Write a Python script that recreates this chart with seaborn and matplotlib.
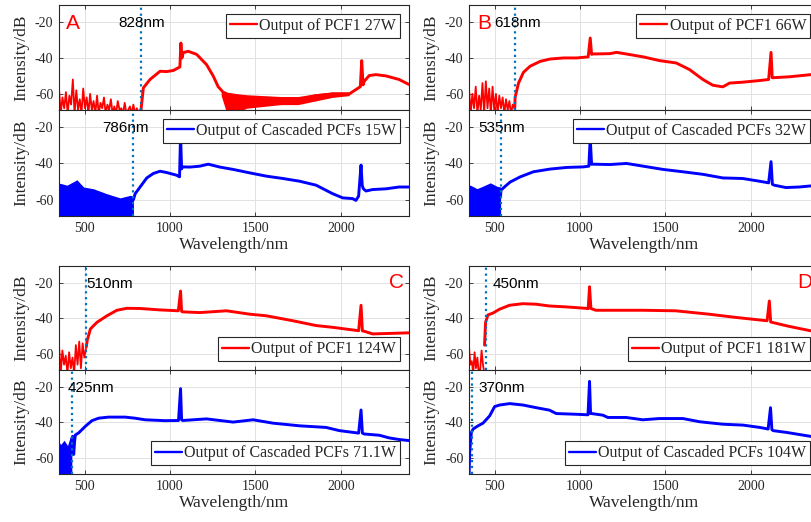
import numpy as np
import matplotlib
matplotlib.use("Agg")
import matplotlib.pyplot as plt
import seaborn as sns

# ---------- panel A ----------
a1_noise = [-57, -71, -62, -68, -59, -71, -61, -66, -52, -71, -58, -69, -63, -71, -57, -68,
            -62, -71, -60, -69, -64, -71, -61, -71, -65, -68, -62, -71, -66, -69, -63, -71,
            -67, -71, -64, -69, -68, -71, -65, -71, -69, -67, -71, -66, -71, -68, -71, -69]
a1_wl = [828, 844, 883, 942, 980, 1019, 1049, 1058, 1064, 1070, 1078, 1107, 1156, 1214, 1253,
         1282, 1311, 1370, 1470, 1564, 1660, 1759, 1856, 1953, 2051, 2099, 2115, 2123, 2131,
         2138, 2167, 2206, 2265, 2342, 2400]
a1_db = [-71, -56.7, -52, -47.4, -47.6, -47, -45.5, -45, -31.7, -40, -37, -36.3, -38, -43.7, -50,
         -56, -59, -62, -63, -63, -63, -63, -61, -60, -60, -57, -56, -41.5, -55,
         -53, -49.8, -49.3, -50, -52, -54.8]
a1_band_wl = [1300, 1330, 1400, 1450, 1550, 1650, 1750, 1850, 1950, 2050]
a1_band_hi = [-58, -59, -60, -60.5, -61, -61.5, -61.5, -60, -59, -59]
a1_band_lo = [-61, -70, -70, -68, -67, -66, -66, -64, -62, -61]

a2_noise_wl = [350, 358, 397, 455, 494, 553, 630, 708, 767, 786]
a2_noise_hi = [-51, -51, -52, -49, -53, -54, -56.7, -59, -57.6, -58]
a2_wl = [786, 796, 825, 864, 903, 942, 980, 1039, 1056, 1062, 1068, 1074, 1117, 1175, 1224,
         1292, 1370, 1467, 1564, 1661, 1759, 1856, 1953, 2012, 2070, 2089, 2105, 2119, 2126,
         2132, 2148, 2187, 2265, 2342, 2400]
a2_db = [-60, -56.7, -53, -48, -45.5, -44.3, -45, -46.5, -47.4, -24, -43, -41.9, -42, -41.5, -40.4,
         -42, -43.3, -45.2, -47, -48.3, -49.8, -52, -56.7, -59, -59.4, -60.4, -58, -40.9, -52,
         -53.9, -55.2, -54.4, -54, -53, -53]

# ---------- panel B ----------
b1_noise = [-57, -71, -60, -68, -56, -71, -61, -69, -54, -71, -53, -68, -57, -71,
            -56, -69, -60, -71, -61, -68, -62, -71, -63, -69, -64, -71, -66, -68]
b1_wl = [618, 620, 640, 669, 708, 767, 825, 903, 980, 1048, 1060, 1068, 1074, 1175, 1214, 1272,
         1370, 1467, 1564, 1642, 1720, 1778, 1837, 1876, 1953, 2051, 2105, 2119, 2126, 2132,
         2226, 2352, 2400]
b1_db = [-68, -62, -54, -48, -44.6, -41.9, -40.6, -40, -40, -39.4, -28.9, -38, -37.8, -37.6, -36.9,
         -37.8, -39.4, -41.5, -42.8, -46.5, -52, -55.2, -56.1, -54, -53.5, -52.6, -52, -36.9, -51,
         -51, -50.5, -49.3, -49]

b2_noise_wl = [350, 358, 397, 420, 475, 514, 535]
b2_noise_hi = [-52, -52, -53.9, -53, -50.7, -52.6, -53]
b2_wl = [535, 537, 562, 592, 650, 727, 825, 922, 1019, 1052, 1060, 1068, 1074, 1175, 1272, 1370,
         1487, 1603, 1720, 1837, 1953, 2051, 2105, 2119, 2127, 2138, 2206, 2284, 2352, 2400]
b2_db = [-58, -54.8, -52.6, -50.2, -47.4, -44.6, -43.1, -42.2, -41.9, -41.5, -26, -40.5, -40.4,
         -40.6, -40, -41.5, -43.3, -44.6, -46, -48, -48.3, -49.8, -50.7, -39, -51.5, -52, -53.3,
         -53, -52.4, -52.5]

# ---------- panel C ----------
c1_noise = [-55, -71, -58, -66, -61, -71, -59, -68, -62, -71, -55, -66, -53, -68, -54, -62, -57]
c1_wl = [510, 515, 534, 572, 631, 689, 747, 825, 942, 1049, 1062, 1068, 1074, 1175, 1331, 1467,
         1564, 1720, 1856, 1953, 2105, 2119, 2127, 2138, 2187, 2400]
c1_db = [-56, -52.4, -45.9, -42.2, -38.5, -35.4, -34.3, -34.4, -35.2, -35.7, -24.6, -36, -36.3,
         -36.7, -35.7, -37.6, -38.5, -41.3, -44, -45, -46.9, -32.6, -47, -47.2, -48.7, -48.1]

c2_noise_wl = [350, 360, 380, 400, 416, 425]
c2_noise_hi = [-51, -52.4, -50, -53, -48, -47]
c2_wl = [425, 430, 436, 442, 446, 465, 504, 543, 582, 640, 737, 795, 854, 970, 1050, 1062, 1068,
         1074, 1214, 1370, 1487, 1603, 1759, 1914, 1992, 2105, 2119, 2127, 2138, 2226, 2284,
         2342, 2400]
c2_db = [-50, -47.8, -58, -50, -47, -45.9, -42.2, -39, -37.6, -37, -37, -37.6, -38.5, -39, -38.9,
         -21, -38.5, -38.9, -38, -39.8, -38.5, -40.4, -41.9, -42.8, -44.6, -46, -33, -46, -46.5,
         -47.2, -48.7, -49.6, -50.2]

# ---------- panel D ----------
d1_noise = [-56, -66, -64, -71, -59, -68, -62, -71, -69, -58, -66, -71]
d1_wl = [441, 447, 461, 490, 529, 587, 665, 743, 821, 918, 1034, 1048, 1056, 1064, 1093, 1210,
         1366, 1560, 1755, 1911, 2008, 2096, 2109, 2117, 2125, 2222, 2349, 2400]
d1_db = [-55, -42.2, -38, -37, -34.8, -32.6, -31.7, -32, -33, -33.5, -34.3, -34.5, -22.2, -34.4,
         -35.4, -35.4, -35.4, -35.7, -37.6, -39.4, -40.4, -41.3, -30.2, -42, -42.2, -44.4,
         -46.9, -48]

d2_wl = [350, 354, 364, 374, 403, 432, 471, 500, 529, 588, 666, 744, 822, 861, 978, 1047, 1056,
         1062, 1068, 1134, 1163, 1270, 1368, 1466, 1603, 1700, 1837, 1955, 2053, 2102, 2116,
         2124, 2131, 2209, 2356, 2400]
d2_db = [-72, -56.7, -45.6, -43.7, -41.9, -40.4, -36.3, -31.1, -30.2, -29.4, -30.2, -31.7, -33.1,
         -35, -35.4, -35.7, -16.9, -35, -35, -35.9, -37.2, -37.2, -38.5, -37.8, -37.8, -39.6, -41,
         -41.5, -42.8, -43.7, -31.7, -44, -44.6, -45.6, -47.9, -48.5]

panels = ["A", "B", "C", "D"]
cut_pcf1 = [828, 618, 510, 450]
cut_casc = [786, 535, 425, 370]
labels_pcf1 = ["Output of PCF1 27W", "Output of PCF1 66W", "Output of PCF1 124W", "Output of PCF1 181W"]
labels_casc = ["Output of Cascaded PCFs 15W", "Output of Cascaded PCFs 32W",
               "Output of Cascaded PCFs 71.1W", "Output of Cascaded PCFs 104W"]

RED = (1, 0, 0)
BLUE = (0, 0, 1)
DOT = (0, 0.447, 0.741)

sns.set_theme(style="white")
plt.rcParams["font.family"] = ["Liberation Serif", "DejaVu Serif"]
plt.rcParams["axes.unicode_minus"] = False

W, H = 812, 522
fig = plt.figure(figsize=(W / 100, H / 100), dpi=100)


def rect(x0, y0, x1, y1):
    return [x0 / W, 1 - y1 / H, (x1 - x0) / W, (y1 - y0) / H]


def style(ax, bottom_labels):
    ax.set_xlim(350, 2400)
    ax.set_ylim(-69, -10.5)
    ax.set_xticks([500, 1000, 1500, 2000])
    ax.set_yticks([-60, -40, -20])
    ax.grid(True, color="#e2e2e2", lw=0.7)
    ax.set_axisbelow(True)
    ax.tick_params(direction="in", length=3, width=0.6, top=True, right=True, bottom=True, left=True,
                   labelsize=10, labelbottom=bottom_labels, colors="#262626", pad=4)
    for s in ax.spines.values():
        s.set_color("#262626")
        s.set_linewidth(0.8)
    ax.set_ylabel("Intensity/dB", fontsize=12.5, color="#262626")
    if bottom_labels:
        ax.set_xlabel("Wavelength/nm", fontsize=12.5, color="#262626", labelpad=2)
    else:
        ax.set_xlabel("")


def legend(ax, loc):
    leg = ax.legend(loc=loc, fontsize=11.5, frameon=True, fancybox=False, framealpha=1,
                    edgecolor="#262626", borderpad=0.25, handlelength=1.7, handletextpad=0.15,
                    borderaxespad=0.55)
    leg.get_frame().set_linewidth(0.8)
    for h in leg.get_lines():
        h.set_linewidth(1.7)


def noise_line(ax, lo, hi, vals, color):
    ax.plot(np.linspace(lo, hi, len(vals)), vals, color=color, lw=1.3)


cols = [(59, 409), (469, 819)]
rows = [((5, 110), (110, 216)), ((266, 370), (370, 474))]

data = {
    "A": dict(top=(a1_wl, a1_db), bot=(a2_wl, a2_db)),
    "B": dict(top=(b1_wl, b1_db), bot=(b2_wl, b2_db)),
    "C": dict(top=(c1_wl, c1_db), bot=(c2_wl, c2_db)),
    "D": dict(top=(d1_wl, d1_db), bot=(d2_wl, d2_db)),
}
text_x_top = [700, 496, 508, 490]
text_x_bot = [602, 403, 403, 403]

for i, p in enumerate(panels):
    c = cols[i % 2]
    r = rows[i // 2]
    ax_t = fig.add_axes(rect(c[0], r[0][0], c[1], r[0][1]))
    ax_b = fig.add_axes(rect(c[0], r[1][0], c[1], r[1][1]))

    # top: PCF1 (red)
    wl, db = data[p]["top"]
    sns.lineplot(x=wl, y=db, ax=ax_t, color=RED, lw=2.1, estimator=None, sort=False,
                 label=labels_pcf1[i])
    if p == "A":
        noise_line(ax_t, 350, 826, a1_noise, RED)
        ax_t.fill_between(a1_band_wl, a1_band_lo, a1_band_hi, color=RED, lw=0)
    elif p == "B":
        noise_line(ax_t, 350, 616, b1_noise, RED)
    elif p == "C":
        noise_line(ax_t, 350, 508, c1_noise, RED)
    else:
        noise_line(ax_t, 350, 440, d1_noise, RED)

    # bottom: cascaded (blue)
    wl, db = data[p]["bot"]
    sns.lineplot(x=wl, y=db, ax=ax_b, color=BLUE, lw=2.1, estimator=None, sort=False,
                 label=labels_casc[i])
    if p == "A":
        ax_b.fill_between(a2_noise_wl, -71, a2_noise_hi, color=BLUE, lw=0)
    elif p == "B":
        ax_b.fill_between(b2_noise_wl, -71, b2_noise_hi, color=BLUE, lw=0)
    elif p == "C":
        ax_b.fill_between(c2_noise_wl, -71, c2_noise_hi, color=BLUE, lw=0)

    for ax, cut, tx in ((ax_t, cut_pcf1[i], text_x_top[i]), (ax_b, cut_casc[i], text_x_bot[i])):
        ax.axvline(cut, color=DOT, ls=":", lw=1.6, zorder=3)
        ax.text(tx, -20.5, f"{cut}nm", family=["Liberation Sans", "DejaVu Sans"], fontsize=11,
                color="black", va="center", ha="left", zorder=4)

    style(ax_t, False)
    style(ax_b, True)
    if i < 2:
        legend(ax_t, "upper right")
        legend(ax_b, "upper right")
    else:
        legend(ax_t, "lower right")
        legend(ax_b, "lower right")

    if p == "A":
        ax_t.text(390, -21, "A", color=RED, fontsize=15, family=["Liberation Sans"], va="center")
    elif p == "B":
        ax_t.text(400, -21, "B", color=RED, fontsize=15, family=["Liberation Sans"], va="center")
    elif p == "C":
        ax_t.text(2370, -20, "C", color=RED, fontsize=15, family=["Liberation Sans"], va="center",
                  ha="right")
    else:
        ax_t.text(2271, -20, "D", color=RED, fontsize=15, family=["Liberation Sans"], va="center")

fig.savefig("out.png", dpi=100)
